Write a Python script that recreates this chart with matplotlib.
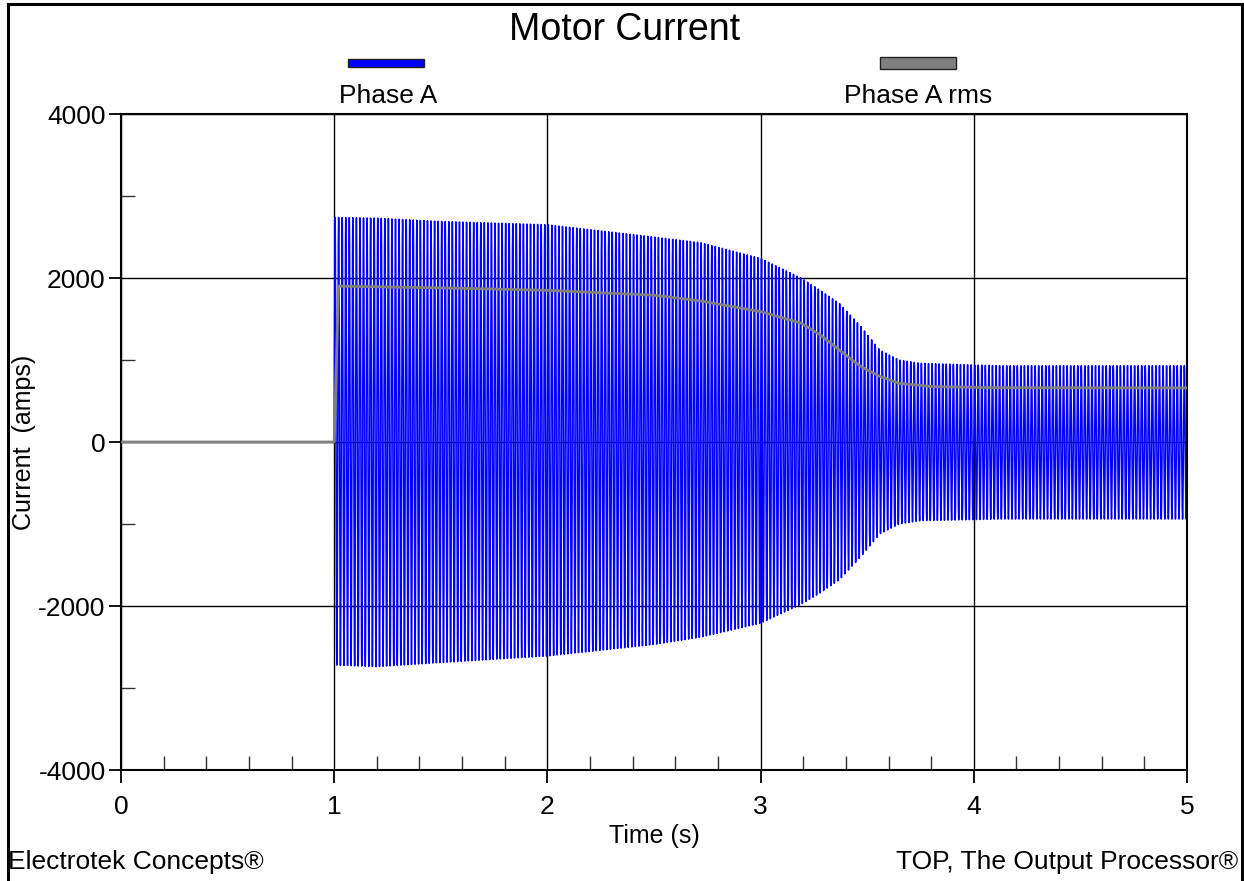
#!/usr/bin/env python3
# Motor current: phase A waveform + its rms
import numpy as np
import matplotlib.pyplot as plt
from matplotlib.patches import Rectangle
from matplotlib.ticker import MultipleLocator

plt.rcParams['font.family'] = ['Liberation Sans', 'DejaVu Sans']
plt.rcParams['axes.unicode_minus'] = False

# envelope of the phase A waveform (peak amps)
env_t = [1.0, 1.2, 1.5, 2.0, 2.5, 2.72, 3.0, 3.19, 3.28, 3.37, 3.47, 3.56, 3.65, 3.75, 4.12, 5.0]
env_pos = [2740, 2730, 2690, 2650, 2500, 2430, 2240, 2000, 1850, 1690, 1410, 1120, 1000, 960, 930, 930]
env_neg = [2720, 2740, 2690, 2610, 2470, 2380, 2210, 1980, 1840, 1680, 1400, 1120, 1000, 960, 940, 940]

# phase A rms
rms_t = [0.0, 1.0, 1.02, 1.5, 2.0, 2.5, 2.72, 3.0, 3.19, 3.28, 3.37, 3.47, 3.56, 3.65, 3.81, 4.12, 5.0]
rms_a = [0, 0, 1900, 1880, 1850, 1790, 1720, 1590, 1450, 1305, 1120, 920, 800, 715, 675, 662, 660]

freq = 60.0

def main():
    t = np.linspace(0, 5, 60001)
    up = np.interp(t, env_t, env_pos, left=0)
    dn = np.interp(t, env_t, env_neg, left=0)
    s = np.sin(2 * np.pi * freq * (t - 1.0))
    ia = np.where(s > 0, up * s, dn * s)
    ia[t < 1.0] = 0

    fig = plt.figure(figsize=(12.44, 8.81), dpi=100)
    ax = fig.add_axes([121 / 1244, 1 - 770 / 881, 1066 / 1244, 656 / 881])

    ax.plot(t, ia, color='#0000ff', lw=1.1, zorder=2)
    ax.plot(rms_t, rms_a, color='#808080', lw=2.0, zorder=3)

    ax.set_xlim(0, 5)
    ax.set_ylim(-4000, 4000)
    ax.xaxis.set_major_locator(MultipleLocator(1))
    ax.xaxis.set_minor_locator(MultipleLocator(0.2))
    ax.yaxis.set_major_locator(MultipleLocator(2000))
    ax.yaxis.set_minor_locator(MultipleLocator(1000))
    ax.set_axisbelow(True)
    ax.grid(which='major', color='black', lw=1.0)

    ax.tick_params(which='major', direction='out', length=9, width=1.3,
                   labelsize=19, color='black')
    ax.tick_params(which='minor', direction='in', length=10, width=1.0, color='#333333')
    ax.tick_params(axis='x', which='major', pad=9)
    ax.tick_params(axis='y', which='major', pad=2)
    for sp in ax.spines.values():
        sp.set_linewidth(1.5)

    ax.set_xlabel('Time (s)', fontsize=18)
    ax.xaxis.set_label_coords(0.5, -(836 - 770) / 656)
    ax.set_ylabel('Current  (amps)', fontsize=18)
    ax.yaxis.set_label_coords(-(121 - 24) / 1066, 0.5)
    ax.xaxis.label.set_va('center')
    ax.yaxis.label.set_va('center')

    fig.text(625 / 1244, 1 - 30 / 881, 'Motor Current', fontsize=27,
             ha='center', va='center')

    # legend: bar above each name
    fig.add_artist(Rectangle((348 / 1244, 1 - 67 / 881), 76 / 1244, 8 / 881,
                             facecolor='#0000ff', edgecolor='#222222', lw=1.0,
                             transform=fig.transFigure))
    fig.add_artist(Rectangle((880 / 1244, 1 - 69 / 881), 76 / 1244, 12 / 881,
                             facecolor='#808080', edgecolor='#222222', lw=1.0,
                             transform=fig.transFigure))
    fig.text(388 / 1244, 1 - 96 / 881, 'Phase A', fontsize=19, ha='center', va='center')
    fig.text(918 / 1244, 1 - 96 / 881, 'Phase A rms', fontsize=19, ha='center', va='center')

    fig.text(8 / 1244, 1 - 862 / 881, 'Electrotek Concepts®', fontsize=19,
             ha='left', va='center')
    fig.text(1238 / 1244, 1 - 862 / 881, 'TOP, The Output Processor®', fontsize=19,
             ha='right', va='center')

    # outer frame
    fig.add_artist(Rectangle((8 / 1244, -0.01), 1234 / 1244, 1 - 4 / 881 + 0.01,
                             facecolor='none', edgecolor='black', lw=2.2,
                             transform=fig.transFigure))

    fig.savefig('out.png', dpi=100)

if __name__ == '__main__':
    main()
